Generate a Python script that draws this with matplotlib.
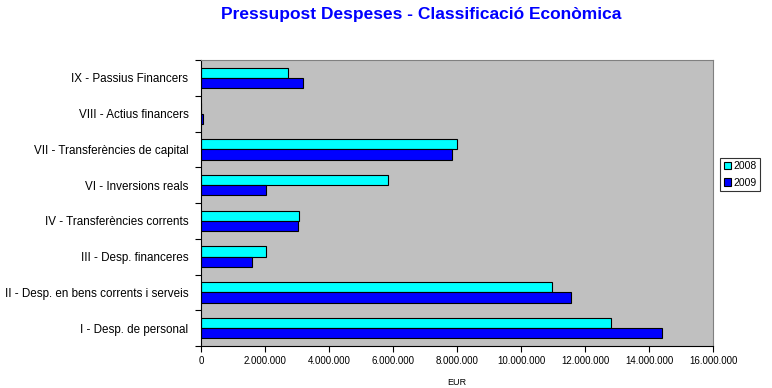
import matplotlib.pyplot as plt
import numpy as np

plt.rcParams['font.family'] = ['Liberation Sans', 'DejaVu Sans']

# categories bottom to top
categories = ['I - Desp. de personal',
              'II - Desp. en bens corrents i serveis',
              'III - Desp. financeres',
              'IV - Transferències corrents',
              'VI - Inversions reals',
              'VII - Transferències de capital',
              'VIII - Actius financers',
              'IX - Passius Financers']
vals_2008 = [12800000, 10980000, 2030000, 3060000, 5830000, 7990000, 0, 2710000]
vals_2009 = [14420000, 11570000, 1600000, 3030000, 2030000, 7830000, 60000, 3180000]
xticks = [0, 2000000, 4000000, 6000000, 8000000, 10000000, 12000000, 14000000, 16000000]

fig = plt.figure(figsize=(7.72, 3.88), dpi=100)
ax = fig.add_axes([201/772, 1-346/388, 512/772, 286/388])
ax.set_facecolor('#C0C0C0')

y = np.arange(len(categories))
h = 0.29
ax.barh(y + h/2, vals_2008, height=h, color='#00FFFF', edgecolor='black', linewidth=0.8, label='2008')
ax.barh(y - h/2, vals_2009, height=h, color='#0000FF', edgecolor='black', linewidth=0.8, label='2009')

ax.set_xlim(0, 16000000)
ax.set_ylim(-0.5, len(categories) - 0.5)
ax.set_xticks(xticks)
ax.set_xticklabels(['{:,}'.format(v).replace(',', '.') for v in xticks], fontsize=7)
ax.set_yticks(y)
ax.set_yticklabels(categories, fontsize=8.4)
ax.tick_params(axis='y', length=0, pad=9)
ax.set_yticks(np.arange(len(categories) + 1) - 0.5, minor=True)
ax.tick_params(axis='y', which='minor', length=4, width=0.8, direction='out')
ax.tick_params(axis='x', length=4, width=0.8, direction='out', pad=3)
for s in ['top', 'right']:
    ax.spines[s].set_color('#808080')
    ax.spines[s].set_linewidth(0.8)
ax.spines['left'].set_linewidth(0.8)
ax.spines['bottom'].set_linewidth(0.8)
ax.set_xlabel('EUR', fontsize=6.5, labelpad=9)

leg = ax.legend(loc='center left', bbox_to_anchor=(1.014, 0.60), fontsize=7.5,
                frameon=True, fancybox=False, edgecolor='black', handlelength=0.7,
                handleheight=0.7, handletextpad=0.2, borderpad=0.35, labelspacing=0.6,
                borderaxespad=0)
leg.get_frame().set_linewidth(0.8)

fig.text(0.546, 0.962, 'Pressupost Despeses - Classificació Econòmica', ha='center', va='center',
         color='#0000FF', fontsize=12.5, fontweight='bold')

fig.savefig('out.png', dpi=100)
